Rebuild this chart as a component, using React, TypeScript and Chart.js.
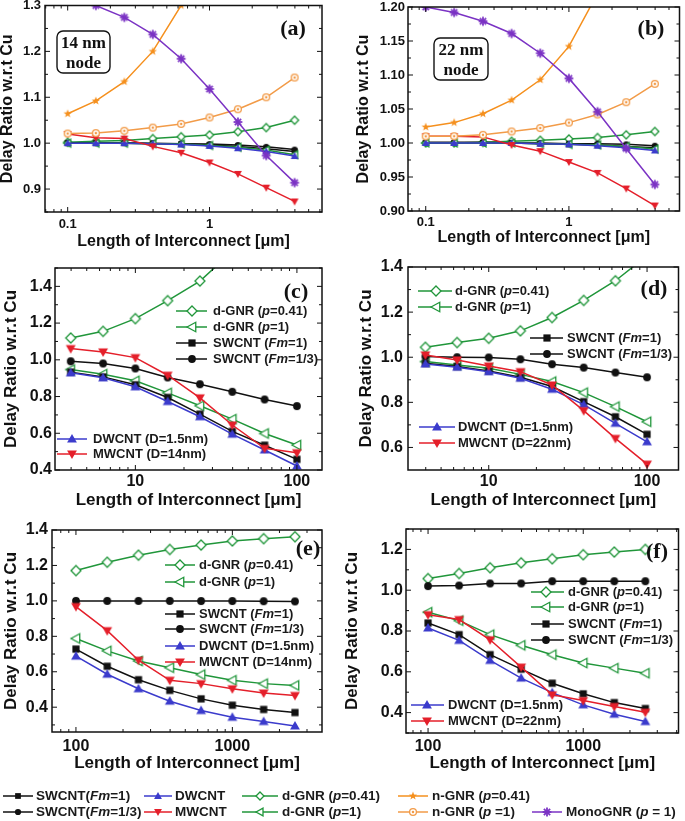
import React, { useEffect, useRef } from 'react';
import { Chart, registerables } from 'chart.js';
Chart.register(...registerables);

// ---------------- data ----------------
const lenShort = [0.1, 0.158, 0.251, 0.398, 0.631, 1.0, 1.585, 2.512, 3.981];
const lenMid = [3.98, 6.31, 10, 15.85, 25.1, 39.8, 63.1, 100];
const lenLong = [100, 158.5, 251, 398, 631, 1000, 1585, 2512];

// (a) 14 nm node, short lengths
const a_sw1 = [1.0, 1.0, 1.0, 0.999, 0.998, 0.996, 0.993, 0.988, 0.982];
const a_sw13 = [1.001, 1.001, 1.001, 1.0, 0.999, 0.998, 0.996, 0.992, 0.986];
const a_dw = [1.0, 1.0, 1.0, 0.999, 0.997, 0.994, 0.989, 0.982, 0.972];
const a_mw = [1.02, 1.012, 1.01, 0.993, 0.979, 0.958, 0.933, 0.903, 0.873];
const a_dg041 = [1.002, 1.004, 1.006, 1.01, 1.014, 1.018, 1.025, 1.034, 1.05];
const a_dg1 = [1.0, 1.0, 1.0, 0.999, 0.998, 0.995, 0.991, 0.985, 0.975];
const a_ng041 = [1.064, 1.092, 1.134, 1.2, 1.3, 1.48, 1.72, 2.05, 2.5];
const a_ng1 = [1.021, 1.022, 1.027, 1.034, 1.042, 1.056, 1.074, 1.1, 1.143];
const a_mono = [1.325, 1.3, 1.274, 1.237, 1.184, 1.118, 1.046, 0.973, 0.914];

// (b) 22 nm node, short lengths
const b_sw1 = [1.0, 1.0, 1.0, 1.0, 0.999, 0.998, 0.997, 0.995, 0.993];
const b_sw13 = [1.001, 1.001, 1.001, 1.0, 1.0, 0.999, 0.999, 0.998, 0.996];
const b_dw = [1.0, 1.0, 1.0, 1.0, 0.999, 0.998, 0.996, 0.993, 0.989];
const b_mw = [1.01, 1.01, 1.009, 0.997, 0.988, 0.972, 0.956, 0.933, 0.908];
const b_dg041 = [1.0, 1.0, 1.001, 1.0025, 1.004, 1.006, 1.008, 1.012, 1.017];
const b_dg1 = [1.0, 1.0, 1.0, 1.0, 0.999, 0.998, 0.997, 0.995, 0.991];
const b_ng041 = [1.0235, 1.03, 1.043, 1.063, 1.093, 1.142, 1.22, 1.33, 1.5];
const b_ng1 = [1.0098, 1.01, 1.012, 1.017, 1.022, 1.03, 1.042, 1.06, 1.087];
const b_mono = [1.2, 1.192, 1.179, 1.161, 1.132, 1.095, 1.046, 0.992, 0.939];

// (c) 14 nm node, intermediate lengths
const c_dg041 = [1.119, 1.155, 1.224, 1.322, 1.429, 1.59, 1.8, 2.1];
const c_dg1 = [0.947, 0.922, 0.886, 0.82, 0.75, 0.677, 0.599, 0.536];
const c_sw1 = [0.933, 0.907, 0.864, 0.795, 0.704, 0.61, 0.535, 0.458];
const c_sw13 = [0.992, 0.98, 0.953, 0.904, 0.867, 0.826, 0.784, 0.748];
const c_dw = [0.929, 0.902, 0.853, 0.773, 0.69, 0.595, 0.509, 0.422];
const c_mw = [1.061, 1.043, 1.012, 0.916, 0.793, 0.645, 0.518, 0.494];

// (d) 22 nm node, intermediate lengths
const d_dg041 = [1.044, 1.065, 1.084, 1.117, 1.176, 1.252, 1.339, 1.45];
const d_dg1 = [0.981, 0.966, 0.951, 0.924, 0.892, 0.843, 0.781, 0.714];
const d_sw1 = [0.973, 0.959, 0.939, 0.911, 0.87, 0.803, 0.736, 0.658];
const d_sw13 = [1.003, 1.0, 0.999, 0.991, 0.969, 0.954, 0.932, 0.911];
const d_dw = [0.97, 0.956, 0.936, 0.907, 0.858, 0.79, 0.707, 0.625];
const d_mw = [1.01, 0.988, 0.961, 0.936, 0.877, 0.763, 0.64, 0.526];

// (e) 14 nm node, global lengths
const e_dg041 = [1.171, 1.218, 1.258, 1.29, 1.315, 1.338, 1.351, 1.362];
const e_dg1 = [0.788, 0.718, 0.661, 0.623, 0.584, 0.552, 0.533, 0.523];
const e_sw13 = [1.0, 1.0, 1.0, 1.0, 0.999, 0.999, 0.998, 0.997];
const e_sw1 = [0.728, 0.631, 0.555, 0.495, 0.447, 0.411, 0.387, 0.37];
const e_dw = [0.688, 0.586, 0.504, 0.434, 0.381, 0.343, 0.319, 0.294];
const e_mw = [0.968, 0.832, 0.665, 0.552, 0.533, 0.504, 0.48, 0.466];

// (f) 22 nm node, global lengths
const f_dg041 = [1.057, 1.082, 1.11, 1.134, 1.154, 1.174, 1.187, 1.2];
const f_sw13 = [1.02, 1.023, 1.033, 1.033, 1.044, 1.044, 1.044, 1.044];
const f_dg1 = [0.892, 0.851, 0.782, 0.73, 0.684, 0.643, 0.618, 0.593];
const f_sw1 = [0.839, 0.782, 0.684, 0.613, 0.544, 0.492, 0.449, 0.42];
const f_dw = [0.815, 0.754, 0.656, 0.569, 0.498, 0.438, 0.392, 0.356];
const f_mw = [0.88, 0.856, 0.757, 0.623, 0.487, 0.459, 0.43, 0.402];

// tick labels
const yTicksA = [0.9, 1.0, 1.1, 1.2, 1.3];
const yTicksB = [0.9, 0.95, 1.0, 1.05, 1.1, 1.15, 1.2];
const yTicksC = [0.4, 0.6, 0.8, 1.0, 1.2, 1.4];
const yTicksD = [0.6, 0.8, 1.0, 1.2, 1.4];
const yTicksE = [0.4, 0.6, 0.8, 1.0, 1.2, 1.4];
const yTicksF = [0.4, 0.6, 0.8, 1.0, 1.2];
const xTicksShort = [0.1, 1];
const xTicksMid = [10, 100];
const xTicksLong = [100, 1000];

const X_TITLE = 'Length of Interconnect [\u03bcm]';
const Y_TITLE = 'Delay Ratio w.r.t Cu';

// ---------------- styles ----------------
const FONT = '"Liberation Sans", Arial, Helvetica, sans-serif';
const SERIF = '"Liberation Serif", "Times New Roman", serif';
const GREEN = '#20963a';
const STY: any = {
  sw1: { color: '#111111', marker: 'square' },
  sw13: { color: '#111111', marker: 'circle' },
  dw: { color: '#3b3bcc', marker: 'triUp' },
  mw: { color: '#e41f2a', marker: 'triDown' },
  dg041: { color: GREEN, marker: 'diamond' },
  dg1: { color: GREEN, marker: 'triLeft' },
  ng041: { color: '#f5901e', marker: 'star' },
  ng1: { color: '#f29b48', marker: 'bull' },
  mono: { color: '#7b33c4', marker: 'aster' },
};

const markerCache: any = {};
function makeMarker(kind: string, color: string, r: number) {
  const s = Math.ceil(r * 2 + 6);
  const c = document.createElement('canvas');
  c.width = s;
  c.height = s;
  const g = c.getContext('2d')!;
  const m = s / 2;
  g.strokeStyle = color;
  g.fillStyle = color;
  g.lineWidth = 1.3;
  g.lineJoin = 'miter';
  const poly = (pts: number[][]) => {
    g.beginPath();
    pts.forEach((p, i) => (i ? g.lineTo(m + p[0], m + p[1]) : g.moveTo(m + p[0], m + p[1])));
    g.closePath();
  };
  switch (kind) {
    case 'square': {
      const h = r * 0.72;
      g.fillRect(m - h, m - h, 2 * h, 2 * h);
      break;
    }
    case 'circle':
      g.beginPath();
      g.arc(m, m, r * 0.78, 0, Math.PI * 2);
      g.fill();
      break;
    case 'triUp':
      poly([[0, -r], [r * 0.98, r * 0.72], [-r * 0.98, r * 0.72]]);
      g.fill();
      break;
    case 'triDown':
      poly([[0, r], [r * 0.98, -r * 0.72], [-r * 0.98, -r * 0.72]]);
      g.fill();
      break;
    case 'diamond':
      poly([[0, -r], [r, 0], [0, r], [-r, 0]]);
      g.fillStyle = '#fff';
      g.fill();
      g.stroke();
      break;
    case 'triLeft':
      poly([[-r, 0], [r * 0.75, -r * 0.95], [r * 0.75, r * 0.95]]);
      g.fillStyle = '#fff';
      g.fill();
      g.stroke();
      break;
    case 'star': {
      const pts: number[][] = [];
      for (let i = 0; i < 10; i++) {
        const rr = i % 2 ? r * 0.45 : r * 1.1;
        const ang = -Math.PI / 2 + (i * Math.PI) / 5;
        pts.push([rr * Math.cos(ang), rr * Math.sin(ang)]);
      }
      poly(pts);
      g.fill();
      break;
    }
    case 'bull':
      g.beginPath();
      g.arc(m, m, r * 0.85, 0, Math.PI * 2);
      g.fillStyle = '#fff';
      g.fill();
      g.stroke();
      g.beginPath();
      g.arc(m, m, r * 0.32, 0, Math.PI * 2);
      g.fillStyle = color;
      g.fill();
      break;
    case 'aster': {
      g.lineWidth = 1.8;
      const rr = r * 1.1;
      for (let i = 0; i < 4; i++) {
        const ang = (i * Math.PI) / 4;
        g.beginPath();
        g.moveTo(m - rr * Math.cos(ang), m - rr * Math.sin(ang));
        g.lineTo(m + rr * Math.cos(ang), m + rr * Math.sin(ang));
        g.stroke();
      }
      break;
    }
  }
  return c;
}
function getMarker(key: string, r: number) {
  const id = key + '_' + r;
  if (!markerCache[id]) markerCache[id] = makeMarker(STY[key].marker, STY[key].color, r);
  return markerCache[id];
}

function drawRich(ctx: CanvasRenderingContext2D, text: string, x: number, y: number, size: number, sx: number) {
  const parts = text.split('_');
  ctx.save();
  ctx.translate(x, y);
  ctx.scale(sx, 1);
  let cx = 0;
  parts.forEach((p, i) => {
    ctx.font = `${i % 2 ? 'italic ' : ''}bold ${size}px ${FONT}`;
    ctx.fillText(p, cx, 0);
    cx += ctx.measureText(p).width;
  });
  ctx.restore();
}

function drawEntry(ctx: CanvasRenderingContext2D, key: string, text: string, l1: number, l2: number, mx: number, tx: number, y: number, r: number, size: number, sx: number) {
  const st = STY[key];
  ctx.strokeStyle = st.color;
  ctx.lineWidth = 1.5;
  ctx.beginPath();
  ctx.moveTo(l1, y);
  ctx.lineTo(l2, y);
  ctx.stroke();
  const mk = getMarker(key, r);
  ctx.drawImage(mk, mx - mk.width / 2, y - mk.height / 2);
  ctx.fillStyle = '#1a1a1a';
  ctx.textAlign = 'left';
  ctx.textBaseline = 'middle';
  drawRich(ctx, text, tx, y, size, sx);
}

// ---------------- panels (layout) ----------------
const PANELS: any[] = [
  {
    id: 'a', box: [0, 0, 340, 256], area: [45, 5, 322, 212], xs: lenShort, x: [0.0692, 6.21], y: [0.85, 1.3],
    yTicks: yTicksA, yDec: 1, xTicks: xTicksShort, r: 4, tickFont: 13, titleFont: 16,
    yTitleX: 8, xTitleY: 242, xLabelY: 224, yLabelPad: 4, tag: '(a)', tagPos: [293, 29],
    node: { lines: ['14 nm', 'node'], rect: [57, 31, 53, 42] },
    series: [['mono', a_mono], ['ng041', a_ng041], ['ng1', a_ng1], ['mw', a_mw], ['dw', a_dw], ['dg1', a_dg1], ['sw1', a_sw1], ['sw13', a_sw13], ['dg041', a_dg041]],
    legend: [],
  },
  {
    id: 'b', box: [340, 0, 345, 256], area: [408, 7, 683, 211], xs: lenShort, x: [0.0752, 5.92], y: [0.9, 1.2],
    yTicks: yTicksB, yDec: 2, xTicks: xTicksShort, r: 4, tickFont: 13, titleFont: 16,
    yTitleX: 364, xTitleY: 238, xLabelY: 222, yLabelPad: 3, tag: '(b)', tagPos: [651, 29],
    node: { lines: ['22 nm', 'node'], rect: [434, 38, 54, 42] },
    series: [['mono', b_mono], ['ng041', b_ng041], ['ng1', b_ng1], ['mw', b_mw], ['dw', b_dw], ['dg1', b_dg1], ['sw1', b_sw1], ['sw13', b_sw13], ['dg041', b_dg041]],
    legend: [],
  },
  {
    id: 'c', box: [0, 258, 340, 250], area: [55, 268, 322, 470], xs: lenMid, x: [3.18, 143], y: [0.4, 1.5],
    yTicks: yTicksC, yDec: 1, xTicks: xTicksMid, r: 5, tickFont: 16, titleFont: 17,
    yTitleX: 11, xTitleY: 500, xLabelY: 482, yLabelPad: 3, tag: '(c)', tagPos: [296, 292],
    series: [['mw', c_mw], ['dw', c_dw], ['sw1', c_sw1], ['sw13', c_sw13], ['dg1', c_dg1], ['dg041', c_dg041]],
    legend: [
      { l: [176, 207], mx: 192, tx: 213, rows: [[311, 'dg041', 'd-GNR (_p_=0.41)'], [327, 'dg1', 'd-GNR (_p_=1)'], [343, 'sw1', 'SWCNT (_Fm_=1)'], [359, 'sw13', 'SWCNT (_Fm_=1/3)']] },
      { l: [57, 87], mx: 72, tx: 93, rows: [[439, 'dw', 'DWCNT (D=1.5nm)'], [454, 'mw', 'MWCNT (D=14nm)']] },
    ],
  },
  {
    id: 'd', box: [340, 258, 345, 250], area: [408, 267, 683, 470], xs: lenMid, x: [3.09, 158], y: [0.5, 1.4],
    yTicks: yTicksD, yDec: 1, xTicks: xTicksMid, r: 5, tickFont: 16, titleFont: 17,
    yTitleX: 366, xTitleY: 500, xLabelY: 482, yLabelPad: 5, tag: '(d)', tagPos: [654, 289],
    series: [['mw', d_mw], ['dw', d_dw], ['sw1', d_sw1], ['sw13', d_sw13], ['dg1', d_dg1], ['dg041', d_dg041]],
    legend: [
      { l: [418, 452], mx: 436, tx: 455, rows: [[291, 'dg041', 'd-GNR (_p_=0.41)'], [307, 'dg1', 'd-GNR (_p_=1)']] },
      { l: [530, 563], mx: 547, tx: 567, rows: [[338, 'sw1', 'SWCNT (_Fm_=1)'], [354, 'sw13', 'SWCNT (_Fm_=1/3)']] },
      { l: [419, 455], mx: 437, tx: 458, rows: [[427, 'dw', 'DWCNT (D=1.5nm)'], [443, 'mw', 'MWCNT (D=22nm)']] },
    ],
  },
  {
    id: 'e', box: [0, 510, 340, 265], area: [52, 530, 322, 732], xs: lenLong, x: [70.3, 3741], y: [0.26, 1.4],
    yTicks: yTicksE, yDec: 1, xTicks: xTicksLong, r: 5, tickFont: 16, titleFont: 17,
    yTitleX: 11, xTitleY: 763, xLabelY: 747, yLabelPad: 4, tag: '(e)', tagPos: [308, 549],
    series: [['mw', e_mw], ['dw', e_dw], ['sw1', e_sw1], ['sw13', e_sw13], ['dg1', e_dg1], ['dg041', e_dg041]],
    legend: [
      { l: [165, 195], mx: 180, tx: 199, rows: [[565, 'dg041', 'd-GNR (_p_=0.41)'], [582, 'dg1', 'd-GNR (_p_=1)'], [614, 'sw1', 'SWCNT (_Fm_=1)'], [629, 'sw13', 'SWCNT (_Fm_=1/3)'], [646, 'dw', 'DWCNT (D=1.5nm)'], [662, 'mw', 'MWCNT (D=14nm)']] },
    ],
  },
  {
    id: 'f', box: [340, 510, 345, 265], area: [406, 529, 682, 733], xs: lenLong, x: [72.1, 4110], y: [0.3, 1.3],
    yTicks: yTicksF, yDec: 1, xTicks: xTicksLong, r: 5, tickFont: 16, titleFont: 17,
    yTitleX: 352, xTitleY: 763, xLabelY: 747, yLabelPad: 3, tag: '(f)', tagPos: [657, 552],
    series: [['mw', f_mw], ['dw', f_dw], ['sw1', f_sw1], ['sw13', f_sw13], ['dg1', f_dg1], ['dg041', f_dg041]],
    legend: [
      { l: [531, 564], mx: 546, tx: 568, rows: [[592, 'dg041', 'd-GNR (_p_=0.41)'], [607, 'dg1', 'd-GNR (_p_=1)'], [624, 'sw1', 'SWCNT (_Fm_=1)'], [640, 'sw13', 'SWCNT (_Fm_=1/3)']] },
      { l: [411, 444], mx: 427, tx: 448, rows: [[705, 'dw', 'DWCNT (D=1.5nm)'], [721, 'mw', 'MWCNT (D=22nm)']] },
    ],
  },
];

// bottom shared legend columns and items: [row y, key, text, column]
const BOTTOM_COLS = [
  { l: [3, 33], mx: 18, tx: 36 },
  { l: [144, 172], mx: 158, tx: 175 },
  { l: [242, 278], mx: 260, tx: 282 },
  { l: [398, 428], mx: 413, tx: 432 },
  { l: [532, 562], mx: 547, tx: 566 },
];
const BOTTOM_ITEMS: any[] = [
  [796, 'sw1', 'SWCNT(_Fm_=1)', 0],
  [796, 'dw', 'DWCNT', 1],
  [796, 'dg041', 'd-GNR (_p_=0.41)', 2],
  [796, 'ng041', 'n-GNR (_p_=0.41)', 3],
  [812, 'sw13', 'SWCNT(_Fm_=1/3)', 0],
  [812, 'mw', 'MWCNT', 1],
  [812, 'dg1', 'd-GNR (_p_=1)', 2],
  [812, 'ng1', 'n-GNR (_p_ =1)', 3],
  [812, 'mono', 'MonoGNR (_p_ = 1)', 4],
];

function panelPlugin(p: any) {
  return {
    id: 'panel_' + p.id,
    afterDraw(chart: any) {
      const ctx: CanvasRenderingContext2D = chart.ctx;
      const a = chart.chartArea;
      const sx = chart.scales.x;
      const sy = chart.scales.y;
      const ox = p.box[0];
      const oy = p.box[1];
      ctx.save();
      ctx.strokeStyle = '#111';
      ctx.lineWidth = 1;
      const seg = (x1: number, y1: number, x2: number, y2: number) => {
        ctx.beginPath();
        ctx.moveTo(x1, y1);
        ctx.lineTo(x2, y2);
        ctx.stroke();
      };
      // x ticks (inward, bottom and top)
      const d0 = Math.floor(Math.log10(p.x[0]));
      const d1 = Math.ceil(Math.log10(p.x[1]));
      for (let d = d0; d <= d1; d++) {
        for (let m = 1; m < 10; m++) {
          const v = m * Math.pow(10, d);
          if (v < p.x[0] || v > p.x[1]) continue;
          const X = sx.getPixelForValue(v);
          const len = m === 1 ? 5 : 3;
          seg(X, a.bottom, X, a.bottom - len);
          seg(X, a.top, X, a.top + len);
        }
      }
      // y ticks
      const step = p.yTicks[1] - p.yTicks[0];
      p.yTicks.forEach((v: number) => {
        const Y = sy.getPixelForValue(v);
        seg(a.left, Y, a.left + 5, Y);
        seg(a.right, Y, a.right - 5, Y);
      });
      for (let v = p.yTicks[0] - step / 2; v < p.y[1]; v += step) {
        if (v <= p.y[0]) continue;
        const Y = sy.getPixelForValue(v);
        seg(a.left, Y, a.left + 3, Y);
        seg(a.right, Y, a.right - 3, Y);
      }
      // frame
      ctx.lineWidth = 1.5;
      ctx.strokeRect(a.left, a.top, a.right - a.left, a.bottom - a.top);
      // panel tag
      ctx.fillStyle = '#111';
      ctx.font = `bold 22px ${SERIF}`;
      ctx.textAlign = 'center';
      ctx.textBaseline = 'middle';
      ctx.fillText(p.tag, p.tagPos[0] - ox, p.tagPos[1] - oy);
      // node box
      if (p.node) {
        const [rx, ry, rw, rh] = p.node.rect;
        const x = rx - ox, y = ry - oy, rr = 6;
        ctx.beginPath();
        ctx.moveTo(x + rr, y);
        ctx.arcTo(x + rw, y, x + rw, y + rh, rr);
        ctx.arcTo(x + rw, y + rh, x, y + rh, rr);
        ctx.arcTo(x, y + rh, x, y, rr);
        ctx.arcTo(x, y, x + rw, y, rr);
        ctx.closePath();
        ctx.fillStyle = '#fff';
        ctx.fill();
        ctx.lineWidth = 1.4;
        ctx.strokeStyle = '#111';
        ctx.stroke();
        ctx.fillStyle = '#111';
        ctx.font = `bold 17px ${SERIF}`;
        ctx.fillText(p.node.lines[0], x + rw / 2, y + rh * 0.3);
        ctx.fillText(p.node.lines[1], x + rw / 2, y + rh * 0.77);
      }
      // in-plot legends
      p.legend.forEach((g: any) => {
        g.rows.forEach((row: any) => {
          drawEntry(ctx, row[1], row[2], g.l[0] - ox, g.l[1] - ox, g.mx - ox, g.tx - ox, row[0] - oy, p.r, 13, 1);
        });
      });
      ctx.restore();
    },
  };
}

function buildChart(canvas: HTMLCanvasElement, p: any) {
  const [cx, cy, cw, ch] = p.box;
  const [L, T, R, B] = p.area;
  const datasets = p.series.map((s: any) => {
    const key = s[0];
    const ys = s[1];
    const st = STY[key];
    return {
      label: key,
      data: p.xs.map((x: number, i: number) => ({ x, y: ys[i] })),
      showLine: true,
      borderColor: st.color,
      backgroundColor: st.color,
      borderWidth: 1.5,
      pointStyle: getMarker(key, p.r),
      pointRadius: p.r,
      tension: 0,
    };
  });
  const tickFont = { family: FONT, size: p.tickFont, weight: 'bold' };
  const titleFont = { family: FONT, size: p.titleFont, weight: 'bold', lineHeight: 1 };
  return new Chart(canvas, {
    type: 'scatter',
    data: { datasets },
    options: {
      responsive: false,
      animation: false,
      devicePixelRatio: 1,
      events: [],
      layout: { padding: { left: 0, top: T - cy, right: cx + cw - R, bottom: 0 } },
      plugins: { legend: { display: false }, tooltip: { enabled: false } },
      scales: {
        x: {
          type: 'logarithmic',
          position: 'bottom',
          min: p.x[0],
          max: p.x[1],
          grid: { display: false, drawTicks: false },
          border: { display: false },
          ticks: {
            autoSkip: false,
            maxRotation: 0,
            font: tickFont,
            color: '#111',
            padding: p.xLabelY - B - p.tickFont * 0.6,
            callback: (v: any) => String(v),
          },
          afterBuildTicks: (s: any) => {
            s.ticks = p.xTicks.map((v: number) => ({ value: v }));
          },
          afterFit: (s: any) => {
            s.height = cy + ch - B;
            s.paddingLeft = 0;
            s.paddingRight = 0;
          },
          title: {
            display: true,
            text: X_TITLE,
            font: titleFont,
            color: '#111',
            padding: { top: 0, bottom: cy + ch - p.xTitleY - p.titleFont / 2 },
          },
        },
        y: {
          type: 'linear',
          position: 'left',
          min: p.y[0],
          max: p.y[1],
          grid: { display: false, drawTicks: false },
          border: { display: false },
          ticks: {
            autoSkip: false,
            font: tickFont,
            color: '#111',
            padding: p.yLabelPad,
            callback: (v: any) => Number(v).toFixed(p.yDec),
          },
          afterBuildTicks: (s: any) => {
            s.ticks = p.yTicks.map((v: number) => ({ value: v }));
          },
          afterFit: (s: any) => {
            s.width = L - cx;
            s.paddingTop = 0;
            s.paddingBottom = 0;
          },
          title: {
            display: true,
            text: Y_TITLE,
            font: titleFont,
            color: '#111',
            padding: { top: p.yTitleX - cx - p.titleFont / 2, bottom: 0 },
          },
        },
      },
    } as any,
    plugins: [panelPlugin(p)],
  } as any);
}

function drawBottomLegend(canvas: HTMLCanvasElement, oy: number) {
  const ctx = canvas.getContext('2d')!;
  ctx.clearRect(0, 0, canvas.width, canvas.height);
  BOTTOM_ITEMS.forEach((it) => {
    const col = BOTTOM_COLS[it[3]];
    drawEntry(ctx, it[1], it[2], col.l[0], col.l[1], col.mx, col.tx, it[0] - oy, 4, 13.5, 1);
  });
}

export default function App() {
  const refs = useRef<(HTMLCanvasElement | null)[]>([]);
  const legRef = useRef<HTMLCanvasElement | null>(null);
  useEffect(() => {
    const charts = PANELS.map((p, i) => buildChart(refs.current[i]!, p));
    if (legRef.current) drawBottomLegend(legRef.current, 775);
    return () => charts.forEach((c) => c.destroy());
  }, []);
  return (
    <div style={{ position: 'absolute', left: 0, top: 0, width: 685, height: 821, background: '#fff', overflow: 'hidden' }}>
      {PANELS.map((p, i) => (
        <canvas
          key={p.id}
          ref={(el) => {
            refs.current[i] = el;
          }}
          width={p.box[2]}
          height={p.box[3]}
          style={{ position: 'absolute', left: p.box[0], top: p.box[1], width: p.box[2], height: p.box[3] }}
        />
      ))}
      <canvas ref={legRef} width={685} height={46} style={{ position: 'absolute', left: 0, top: 775, width: 685, height: 46 }} />
    </div>
  );
}
